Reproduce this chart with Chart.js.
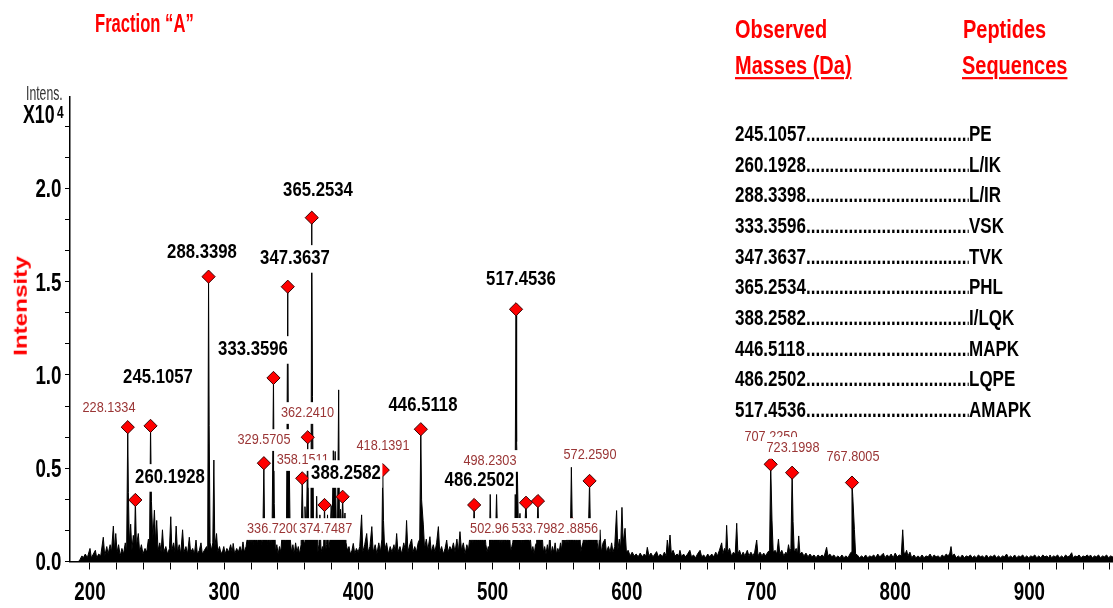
<!DOCTYPE html>
<html>
<head>
<meta charset="utf-8">
<title>Fraction A – mass spectrum</title>
<script src="https://cdn.jsdelivr.net/npm/chart.js@4.4.1/dist/chart.umd.min.js"></script>
<style>
  html, body { margin: 0; padding: 0; background: #fff; }
  #wrap { position: relative; width: 1113px; height: 608px; overflow: hidden; background: #fff; }
  #spec { position: absolute; left: 0; top: 0; }
  .txt { position: absolute; white-space: nowrap; line-height: 1; transform-origin: 0 0; }
</style>
</head>
<body>
<div id="wrap">
  <canvas id="spec" width="1113" height="608"></canvas>
</div>
<script>
// ---- spectrum profile (m/z, intensity ×10^4), read segment by segment ----
const profileLow = [
  [191.5,0],[192.5,0.01],[194,0.03],[195,0.02],[196.5,0.04],[198,0.02],[200,0.07],[201,0.02],[202.5,0.04],[204,0.06],
  [205,0.02],[206.5,0.04],[208,0.03],[209.9,0.13],[211,0.03],[212.5,0.08],[213.5,0.04],[215,0.09],[216,0.05],[217.4,0.19],
  [218.3,0.06],[219.2,0.15],[220.2,0.05],[221.3,0.09],[222.5,0.03],[223.8,0.07],[225,0.04],[226.3,0.1],[227.3,0.05],[228.13,0.72],
  [228.6,0.37],[229.3,0.1],[230.3,0.2],[231.2,0.06],[232.3,0.14],[233.1,0.07],[233.8,0.33],[234.6,0.08],[236,0.15],[237,0.05],
  [238.3,0.09],[239.5,0.04],[241,0.07],[242.3,0.05],[243.5,0.12],[244.4,0.1],[245.11,0.727],[245.8,0.32],[246.8,0.12],[248,0.275],
  [248.9,0.1],[249.7,0.22],[250.7,0.06],[252,0.1],[253,0.05],[254,0.17],[255,0.05],[256.5,0.08],[257.8,0.04],[259.2,0.07],
  [260.19,0.24],[261,0.06],[262.3,0.1],[263.3,0.05],[264.2,0.19],[265.2,0.05],[266.5,0.09],[267.6,0.04],[269,0.17],[270,0.05],
  [271.5,0.08],[272.7,0.04],[274,0.13],[275,0.05],[276.5,0.07],[277.8,0.04],[279,0.115],[280,0.04],[281.5,0.06],[282.7,0.1],
  [283.7,0.04],[285.2,0.06],[286.9,0.08],[287.7,0.05],[288.34,1.527],[288.8,0.73],[289.5,0.1],[290.5,0.06],[291.5,0.1],[292.3,0.544],
  [293,0.08],[294.3,0.15],[295.2,0.05],[296.5,0.08],[297.7,0.04],[299,0.06],[299.7,0.08],[300.7,0.04],[302,0.07],[303.3,0.05],
  [304.8,0.09],[306,0.05],[306.7,0.097],[307.8,0.04],[309.3,0.07],[310.5,0.05],[311.8,0.08],[313,0.05],[314,0.105],[315,0.05],
  [316.3,0.08]
];
const profileMid = [
  [317.5,0.14],[318.3,0.09],[319.2,0.16],[320,0.1],[320.8,0.18],[321.6,0.09],[322.4,0.15],[323.2,0.1],[324,0.14],[324.8,0.09],
  [325.6,0.16],[326.4,0.1],[327.2,0.15],[328,0.09],[328.8,0.14],[329.57,0.527],[330,0.23],[330.8,0.1],[331.6,0.15],[332.4,0.09],
  [333.2,0.2],[334,0.1],[334.8,0.14],[335.6,0.1],[336.72,0.984],[337.3,0.31],[338.2,0.05],[339.2,0.09],[340.2,0.04],[341.2,0.08],
  [342.2,0.05],[343.2,0.15],[344,0.1],[344.8,0.16],[345.6,0.1],[346.4,0.14],[347.36,1.473],[348,0.3],[348.5,0.517],[349.2,0.12],
  [350.2,0.05],[351.2,0.09],[352.2,0.04],[353.2,0.1],[354.2,0.05],[355.2,0.08],[356.2,0.04],[357.3,0.09],[358.15,0.446],[359,0.12],
  [359.6,0.1],[360.2,0.294],[361.2,0.12],[362.24,0.666],[363,0.14],[363.8,0.2],[364.6,0.12],[365.25,1.843],[365.8,0.884],[366.6,0.15],
  [367.6,0.2],[368.3,0.1],[368.9,0.35],[369.8,0.05],[370.6,0.09],[371.3,0.25],[372.2,0.05],[373.2,0.08],[374,0.05],[374.75,0.303],
  [375.5,0.05],[376.3,0.09],[377,0.25],[377.8,0.05],[378.8,0.12],[379.7,0.3],[380.5,0.2],[381.3,0.594],[382,0.4],[382.7,0.59],
  [383.5,0.2],[384.4,0.15],[385.3,0.92],[385.9,0.15],[386.7,0.28],[387.5,0.14],[388.26,0.347],[389,0.15],[390,0.26],[390.8,0.1],
  [391.8,0.06],[393,0.08],[394,0.04],[395.2,0.06],[396.2,0.097],[397.3,0.04],[398.5,0.07],
  [399.8,0.05],[401,0.08],[402.4,0.25],[403.3,0.05],[404.7,0.09],[406.2,0.15],[407.2,0.05],[408.6,0.08],[410,0.187],[411,0.05],
  [412.5,0.09],[413.8,0.04],[415.2,0.1],[416.4,0.05],[417.5,0.12],[418.14,0.49],[418.7,0.22],[419.6,0.06],[421,0.1],[422.3,0.04],
  [423.7,0.08],[425,0.05],[426.5,0.09],[427.5,0.05],[428.5,0.15],[429.5,0.05],[431,0.08],[432.3,0.04],[433.8,0.1],[435,0.06],
  [435.9,0.22],[436.9,0.05],[438.3,0.09],[439.7,0.12],[440.7,0.05],[442,0.08],[443.3,0.05],[444.5,0.1],[445.7,0.12],[446.51,0.709],
  [447.1,0.33],[448.4,0.196],[449.3,0.07],[450.6,0.12],[451.7,0.06],[453.3,0.133],[454.3,0.05],[455.8,0.09],[457,0.05],[458.3,0.1],
  [459.6,0.187],[460.6,0.05],[462,0.08],[463.3,0.04],[464.6,0.07],[465.8,0.115],[466.8,0.05],[468.2,0.08],[469.5,0.06]
];
const profileHigh = [
  [470.8,0.1],[472,0.05],[473.4,0.12],[474.5,0.05],[475.7,0.16],[476.8,0.06],[478.2,0.1],[479.5,0.04],[480.8,0.09],[482,0.06],
  [483,0.13],[483.8,0.1],[484.6,0.15],[485.4,0.1],[486.25,0.303],[487,0.1],[487.8,0.16],[488.6,0.1],[489.4,0.14],[490.2,0.1],
  [491,0.17],[491.8,0.1],[492.6,0.13],[493.4,0.1],[494.2,0.16],[495,0.09],[495.9,0.05],[496.8,0.08],[497.6,0.05],[498.23,0.366],
  [498.9,0.1],[499.7,0.15],[500.5,0.1],[501.3,0.14],[502.1,0.1],[502.96,0.366],[503.8,0.1],[504.6,0.16],[505.4,0.1],[506.2,0.14],
  [507,0.1],[507.8,0.18],[508.6,0.1],[509.4,0.15],[510.2,0.1],[511,0.13],[511.8,0.1],[512.6,0.16],[513.4,0.05],[514.3,0.08],
  [515,0.1],[515.8,0.15],[516.6,0.12],[517.45,1.352],[517.9,0.642],[518.4,0.5],[519.3,0.15],[520.4,0.258],[521.2,0.1],[522,0.16],
  [522.8,0.1],[523.6,0.14],[524.9,0.315],[525.8,0.12],[526.6,0.17],[527.4,0.1],[528.2,0.12],[529,0.05],[530,0.08],[531,0.04],
  [532,0.09],[532.8,0.1],[533.8,0.324],[534.6,0.12],[535.4,0.15],[536.2,0.1],[537,0.14],[537.8,0.05],[538.8,0.08],[539.8,0.04],
  [540.8,0.09],[541.8,0.05],[542.6,0.15],[543.6,0.04],[544.6,0.08],[545.6,0.05],[546.6,0.1],[547.6,0.04],[548.6,0.07],[549.6,0.05],
  [550.6,0.1],[551.5,0.06],[552.3,0.16],[553.1,0.1],[553.9,0.14],[554.7,0.1],[555.5,0.13],[556.3,0.1],[557.1,0.15],[557.9,0.1],
  [558.7,0.505],[559.5,0.15],[560.3,0.1],[561.1,0.14],[561.9,0.1],[562.7,0.13],[563.5,0.1],[564.9,0.17],[565.7,0.05],[566.5,0.08],
  [567.3,0.1],[568.1,0.14],[568.9,0.1],[569.7,0.15],[570.5,0.1],[571.3,0.13],[572.26,0.432],[573,0.12],[573.8,0.16],[574.6,0.1],
  [575.4,0.14],[576.2,0.1],[577.2,0.21],[578,0.1],[578.8,0.05],[580,0.17],[581,0.05],[582.3,0.1],[583.8,0.12],[584.8,0.05],
  [586.3,0.08],[587.6,0.05],[588.7,0.1],[589.7,0.05],[591,0.08],[592.4,0.273],[593.3,0.06],[594.4,0.12],[595.4,0.07],[596.4,0.29],
  [597.3,0.1],[598.7,0.178],[599.7,0.05]
];
const profileTail = [
  [601,0.06],[602.5,0.03],[604,0.05],[605.5,0.03],[607,0.04],[608.5,0.025],[610,0.045],[611.5,0.025],[613,0.04],[614.3,0.03],
  [615.3,0.076],[616.5,0.03],[618,0.045],[619.5,0.025],[621,0.04],[622.2,0.053],[623.5,0.025],[625,0.04],[626.5,0.025],[628,0.05],
  [629.3,0.03],[630.2,0.115],[631.1,0.05],[632.2,0.142],[633.2,0.04],[634.5,0.06],[636,0.03],[637.5,0.04],[638.7,0.03],[639.6,0.06],
  [640.8,0.025],[642.3,0.04],[643.8,0.025],[645.3,0.04],[647,0.06],[648.2,0.025],[649.7,0.035],[651.2,0.02],[652.7,0.04],[654.6,0.06],
  [655.8,0.025],[657.3,0.035],[658.8,0.02],[660.3,0.04],[661.8,0.025],[663.3,0.04],[664.8,0.025],[666.3,0.05],[667.5,0.03],[669,0.06],
  [670.7,0.1],[671.6,0.04],[672.8,0.07],[673.7,0.05],[674.4,0.194],[675.3,0.05],[676.6,0.07],[678,0.03],[679.5,0.05],[680.8,0.04],
  [681.9,0.205],[682.8,0.04],[684,0.06],[685.3,0.03],[686.7,0.05],[688,0.03],[689.8,0.06],[691,0.03],[692.5,0.05],[694,0.03],
  [695.3,0.05],[696.8,0.115],[697.8,0.03],[699.3,0.05],[700.7,0.03],[702,0.045],[703.5,0.03],[705,0.05],[706.4,0.06],[707.23,0.521],
  [708.2,0.222],[709.1,0.05],[710.5,0.06],[711.8,0.04],[713,0.12],[714,0.04],[715.5,0.06],[717,0.03],[718.5,0.05],[719.5,0.04],
  [720.5,0.09],[721.5,0.05],[722.3,0.07],[723.2,0.476],[723.9,0.214],[724.8,0.05],[726.2,0.07],[727.2,0.04],[728.1,0.137],[729,0.04],
  [730.5,0.05],[732,0.03],[733.5,0.045],[735,0.025],[736.5,0.04],[738,0.025],[739.5,0.035],[741,0.02],[742.5,0.035],[744,0.025],
  [745.5,0.035],[747,0.025],[748.9,0.076],[749.9,0.03],[751.3,0.04],[752.8,0.025],[754.3,0.035],[755.8,0.02],[757.3,0.03],[758.8,0.02],
  [760.3,0.035],[761.8,0.02],[763.3,0.03],[764.8,0.02],[766.3,0.04],[767.1,0.05],[767.8,0.423],[768.4,0.348],[769.6,0.172],[770.5,0.04],
  [771.8,0.035],[773.3,0.02],[775,0.03],[776.5,0.02],[778,0.035],[779.5,0.02],[781,0.03],[782.5,0.025],[784,0.035],[785.5,0.02],
  [787,0.04],[788.5,0.025],[790,0.035],[791.2,0.044],[792.3,0.02],[794,0.035],[795.5,0.025],[797,0.04],[798.5,0.02],[800,0.045],
  [801.5,0.025],[803,0.035],[804.5,0.03],[805.6,0.17],[806.5,0.05],[807.5,0.04],[808.5,0.06],[809.5,0.03],[811,0.05],[812.3,0.02],
  [814,0.035],[815.5,0.02],[817,0.03],[818.5,0.02],[820,0.035],[821.5,0.02],[823,0.03],[824.5,0.025],[826,0.04],[827.5,0.02],
  [829,0.035],[830.5,0.025],[832,0.03],[833.5,0.02],[835,0.035],[836.5,0.025],[838,0.04],[839.5,0.03],[840.7,0.045],[841.6,0.08],
  [842.5,0.03],[844,0.04],[845.5,0.02],[847,0.03],[848.5,0.02],[850,0.035],[851.5,0.02],[853,0.03],[854.5,0.025],[856,0.035],
  [857.5,0.02],[859,0.03],[860.5,0.02],[862,0.035],[863.5,0.025],[865,0.03],[866.5,0.02],[868,0.035],[869.5,0.02],[871,0.03],
  [872.5,0.025],[874,0.035],[875.5,0.02],[877,0.03],[878.5,0.02],[880,0.03],[881.5,0.025],[883,0.04],[884.5,0.02],[886,0.03],
  [887.5,0.02],[889,0.035],[890.5,0.02],[892,0.03],[893.5,0.025],[895,0.035],[896.5,0.02],[898,0.03],[899.5,0.02],[901,0.03],
  [902.5,0.025],[904,0.035],[905.5,0.02],[907,0.03],[908.5,0.02],[910,0.035],[911.5,0.025],[913,0.03],[914.5,0.02],[915.4,0.035],
  [916.5,0.02],[918,0.03],[919.5,0.025],[921,0.035],[922.5,0.02],[924,0.03],[925.5,0.02],[927,0.035],[928.5,0.025],[930,0.03],
  [931.5,0.047],[932.5,0.02],[934,0.03],[935.5,0.025],[937,0.035],[938.5,0.02],[940,0.03],[941.5,0.025],[943,0.035],[944.5,0.025],
  [945.5,0.035],[947,0.02],[948.5,0.03],[950,0.025],[951.5,0.035],[953,0.02],[954.5,0.03],[956,0.025],[957.5,0.035],[959,0.02],
  [960.5,0.03],[962,0.025],[963.5,0.03]
];

// ---- marked peaks (red diamonds) ----
const markerMz        = [228.1334, 233.8, 245.1057, 288.3398, 329.5705, 336.7200, 347.3637, 358.1511, 362.2410, 365.2534, 374.7487, 388.2582,
                         418.1391, 446.5118, 486.2502, 517.4536, 524.9, 533.7982, 559.3, 572.2590, 707.2250, 723.1998, 767.8005];
const markerIntensity = [0.72, 0.33, 0.727, 1.527, 0.527, 0.984, 1.473, 0.446, 0.666, 1.843, 0.303, 0.347,
                         0.49, 0.709, 0.303, 1.352, 0.315, 0.324, 0.20, 0.432, 0.521, 0.476, 0.423];

// ---- peak labels: text and where each one sits (m/z, intensity of label centre) ----
const peakLabelText = ['228.1334','329.5705','362.2410','358.1511','336.7200','374.7487','418.1391','502.9650','562.8856','533.7982',
                       '572.2590','707.2250','723.1998','767.8005',
                       '245.1057','260.1928','288.3398','347.3637','365.2534','333.3596','388.2582','446.5118','486.2502','517.4536',
                       '498.2303'];
const peakLabelLayout = [
  {mz:214.16, at:0.823, bold:false}, {mz:329.66, at:0.651, bold:false}, {mz:362.07, at:0.796, bold:false},
  {mz:358.49, at:0.544, bold:false}, {mz:336.74, at:0.174, bold:false}, {mz:375.63, at:0.174, bold:false},
  {mz:418.33, at:0.619, bold:false}, {mz:502.98, at:0.174, bold:false}, {mz:558.87, at:0.174, bold:false},
  {mz:533.80, at:0.174, bold:false}, {mz:572.58, at:0.571, bold:false}, {mz:707.45, at:0.668, bold:false},
  {mz:723.85, at:0.609, bold:false}, {mz:768.55, at:0.560, bold:false},
  {mz:250.67, at:0.984, bold:true}, {mz:259.61, at:0.448, bold:true}, {mz:283.46, at:1.654, bold:true},
  {mz:352.76, at:1.622, bold:true}, {mz:369.90, at:1.987, bold:true}, {mz:321.46, at:1.134, bold:true},
  {mz:390.76, at:0.469, bold:true}, {mz:448.14, at:0.836, bold:true}, {mz:490.24, at:0.434, bold:true},
  {mz:521.16, at:1.509, bold:true},
  {mz:498.06, at:0.539, bold:false}
];

// ---- axes ----
const xTickValues = [200,220,240,260,280,300,320,340,360,380,400,420,440,460,480,500,520,540,560,580,600,620,640,660,680,
                     700,720,740,760,780,800,820,840,860,880,900,920,940,960];
const xTickLabels = ['200','300','400','500','600','700','800','900'];
const yTickValues = [0, 0.1667, 0.3333, 0.5, 0.6667, 0.8333, 1.0, 1.1667, 1.3333, 1.5, 1.6667, 1.8333, 2.0, 2.1667, 2.3333];
const yTickLabels = ['0.0','0.5','1.0','1.5','2.0'];

// ---- identification table ----
const observedMasses   = ['245.1057','260.1928','288.3398','333.3596','347.3637','365.2534','388.2582','446.5118','486.2502','517.4536'];
const peptideSequences = ['PE','L/IK','L/IR','VSK','TVK','PHL','I/LQK','MAPK','LQPE','AMAPK'];

const FONT = "'Liberation Sans', Arial, sans-serif";

const toPoints = seg => seg.map(p => ({x: p[0], y: p[1]}));
const spectrum = [].concat(toPoints(profileLow), toPoints(profileMid), toPoints(profileHigh), toPoints(profileTail));
const markers = markerMz.map((m, i) => ({x: m, y: markerIntensity[i]}));

// condensed text on the canvas: horizontal squeeze around the anchor
function squeezedText(ctx, text, px, py, sx) {
  ctx.save();
  ctx.translate(px, py);
  ctx.scale(sx, 1);
  ctx.fillText(text, 0, 0);
  ctx.restore();
}

// axis numbers in a condensed bold face
const tickLabelPlugin = {
  id: 'tickLabels',
  afterDraw(chart) {
    const {ctx, scales: {x, y}} = chart;
    ctx.save();
    ctx.fillStyle = '#000';
    ctx.font = 'bold 25px ' + FONT;
    ctx.textBaseline = 'alphabetic';
    ctx.textAlign = 'center';
    xTickLabels.forEach(t => squeezedText(ctx, t, x.getPixelForValue(+t), x.top + 38.2, 0.75));
    ctx.textAlign = 'right';
    yTickLabels.forEach(t => squeezedText(ctx, t, 61.5, y.getPixelForValue(+t) + 8.9, 0.75));
    ctx.restore();
  }
};

// peak labels with a white box behind them, drawn over the trace
const peakLabelPlugin = {
  id: 'peakLabels',
  afterDatasetsDraw(chart) {
    const {ctx, scales: {x, y}} = chart;
    ctx.save();
    ctx.textAlign = 'center';
    ctx.textBaseline = 'middle';
    peakLabelLayout.forEach((l, i) => {
      const text = peakLabelText[i];
      const size = l.bold ? 19.7 : 15.5;
      const sx = l.bold ? 0.85 : 0.82;
      ctx.font = (l.bold ? 'bold ' : '') + size + 'px ' + FONT;
      const w = ctx.measureText(text).width * sx;
      const px = x.getPixelForValue(l.mz);
      const py = y.getPixelForValue(l.at);
      const hh = size * 0.7;
      ctx.fillStyle = '#ffffff';
      ctx.fillRect(px - w / 2 - 2.5, py - hh, w + 4, hh * 2);
      ctx.fillStyle = l.bold ? '#000000' : '#9a3535';
      squeezedText(ctx, text, px, py, sx);
    });
    ctx.restore();
  }
};

new Chart(document.getElementById('spec'), {
  data: {
    datasets: [
      {
        type: 'line',
        data: spectrum,
        borderColor: '#000',
        backgroundColor: '#000',
        borderWidth: 1,
        fill: 'origin',
        pointRadius: 0,
        tension: 0,
        order: 2
      },
      {
        type: 'scatter',
        data: markers,
        pointStyle: 'rectRot',
        pointRadius: 6.6,
        backgroundColor: '#ff0000',
        borderColor: '#3a0000',
        borderWidth: 1,
        order: 1
      }
    ]
  },
  options: {
    responsive: false,
    animation: false,
    devicePixelRatio: 1,
    layout: { autoPadding: false, padding: { top: 97, left: 0, right: 0, bottom: 0 } },
    plugins: { legend: { display: false }, tooltip: { enabled: false } },
    scales: {
      x: {
        type: 'linear',
        position: 'bottom',
        min: 185.1,
        max: 962.3,
        afterBuildTicks: s => { s.ticks = xTickValues.map(v => ({value: v})); },
        afterFit: s => { s.height = 46.5; },
        ticks: { display: false },
        grid: { drawOnChartArea: false, drawTicks: true, tickLength: 8, color: '#000', lineWidth: 1 },
        border: { display: true, color: '#000', width: 1.5 }
      },
      y: {
        type: 'linear',
        min: 0,
        max: 2.49,
        afterBuildTicks: s => { s.ticks = yTickValues.map(v => ({value: v})); },
        afterFit: s => { s.width = 70; },
        ticks: { display: false },
        grid: { drawOnChartArea: false, drawTicks: true, tickLength: 5, color: '#000', lineWidth: 1 },
        border: { display: true, color: '#000', width: 1.5 }
      }
    }
  },
  plugins: [peakLabelPlugin, tickLabelPlugin]
});

// ---- text around the plot ----
const wrap = document.getElementById('wrap');
function placeText(t) {
  const d = document.createElement('div');
  d.className = 'txt';
  d.textContent = t.text;
  const sy = t.sy || 1, sx = t.sx || 1;
  d.style.left = t.left + 'px';
  d.style.top = (t.baseline - 0.8465 * t.size * sy) + 'px';
  d.style.fontSize = t.size + 'px';
  d.style.fontFamily = FONT;
  d.style.fontWeight = t.weight || 'bold';
  d.style.color = t.color || '#000';
  d.style.transform = 'scale(' + sx + ',' + sy + ')';
  if (t.underline) {
    d.style.textDecoration = 'underline';
    d.style.textDecorationThickness = '2px';
    d.style.textUnderlineOffset = '3px';
  }
  if (t.width) { d.style.width = (t.width / sx) + 'px'; d.style.overflow = 'hidden'; }
  wrap.appendChild(d);
  return d;
}

placeText({text: 'Fraction \u201CA\u201D', left: 95, baseline: 32.5, size: 20, color: '#ff0000', sx: 0.83, sy: 1.3});
placeText({text: 'Intens.', left: 26, baseline: 100, size: 15, weight: 'normal', color: '#333', sx: 0.815, sy: 1.3});
placeText({text: 'X10', left: 23, baseline: 124, size: 21.7, sx: 0.82, sy: 1.18});
placeText({text: '4', left: 56.5, baseline: 118, size: 14, sx: 0.85, sy: 1.15});

const yTitle = document.createElement('div');
yTitle.className = 'txt';
yTitle.textContent = 'Intensity';
Object.assign(yTitle.style, {
  left: '20.5px', top: '306px', fontSize: '18.5px', fontFamily: FONT, fontWeight: 'bold', color: '#ff0000',
  transformOrigin: '50% 50%', transform: 'translate(-50%, -50%) rotate(-90deg) scaleX(1.31)'
});
wrap.appendChild(yTitle);

placeText({text: 'Observed', left: 735, baseline: 39, size: 24.5, color: '#ff0000', sx: 0.815, sy: 1.09});
placeText({text: 'Masses (Da)', left: 735, baseline: 75, size: 24.5, color: '#ff0000', sx: 0.815, sy: 1.09, underline: true});
placeText({text: 'Peptides', left: 963, baseline: 39, size: 24.5, color: '#ff0000', sx: 0.815, sy: 1.09});
placeText({text: 'Sequences', left: 962, baseline: 75, size: 24.5, color: '#ff0000', sx: 0.815, sy: 1.09, underline: true});

observedMasses.forEach((m, i) => {
  const base = 141.7 + 30.67 * i;
  placeText({text: m, left: 735, baseline: base, size: 21.5, sx: 0.79, sy: 1.03});
  placeText({text: '.'.repeat(50), left: 806, baseline: base, size: 21.5, sx: 0.79, sy: 1.03, width: 163});
  placeText({text: peptideSequences[i], left: 969, baseline: base, size: 21.5, sx: 0.79, sy: 1.03});
});
</script>
</body>
</html>
